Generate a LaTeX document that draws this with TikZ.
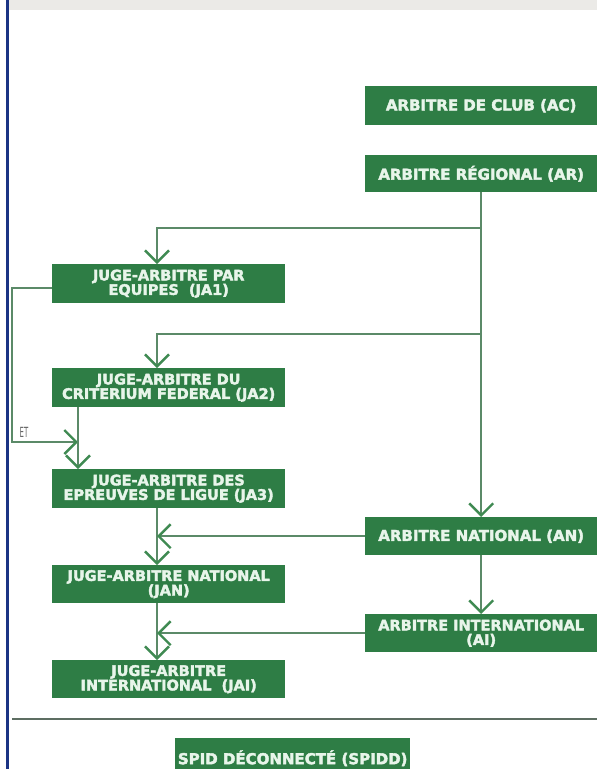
\documentclass[tikz,border=0pt]{standalone}
\usepackage{fontspec}
\newfontfamily\heavy[FakeBold=2.6]{DejaVu Sans Bold}
\newfontfamily\dvsc{DejaVu Sans Condensed}
\usetikzlibrary{arrows.meta}
\definecolor{boxgreen}{HTML}{2E7D45}
\definecolor{boxtext}{HTML}{E8F5EA}
\definecolor{linecol}{HTML}{5B8A68}
\definecolor{tipcol}{HTML}{3F8A52}
\definecolor{bluebar}{HTML}{1B3484}
\definecolor{topband}{HTML}{EBEAE7}
\definecolor{sepcol}{HTML}{5D6E62}
\tikzset{
  box/.style={fill=boxgreen, text=boxtext, align=center, inner sep=0pt,
    anchor=north west, font=\heavy\fontsize{15}{15.5}\selectfont},
  two/.style={font=\heavy\fontsize{14.5}{14.5}\selectfont},
  lbox/.style={box, minimum width=233pt},
  rbox/.style={box, minimum width=232pt},
  conn/.style={draw=linecol, line width=2pt},
  arr/.style={conn, -{Straight Barb[length=12pt, width=24pt, line width=2.4pt, color=tipcol]}},
}
\begin{document}
\begin{tikzpicture}[x=1pt, y=-1pt]
\useasboundingbox (0,0) rectangle (597,769);
% frame elements
\fill[white] (0,0) rectangle (597,769);
\fill[topband] (8,0) rectangle (597,10);
\fill[bluebar] (5.5,0) rectangle (8.5,769);

% right column
\node[rbox, minimum height=39pt] (AC) at (365,86) {ARBITRE DE CLUB (AC)};
\node[rbox, minimum height=37pt] (AR) at (365,155) {ARBITRE RÉGIONAL (AR)};
\node[rbox, minimum height=38pt] (AN) at (365,517) {ARBITRE NATIONAL (AN)};
\node[rbox, two, minimum height=38pt] (AI) at (365,614) {ARBITRE INTERNATIONAL\\(AI)};

% left column
\node[lbox, two, minimum height=39pt] (JA1) at (52,264) {JUGE-ARBITRE PAR\\EQUIPES~~(JA1)};
\node[lbox, two, minimum height=39pt] (JA2) at (52,368) {JUGE-ARBITRE DU\\CRITERIUM FEDERAL (JA2)};
\node[lbox, two, minimum height=39pt] (JA3) at (52,469) {JUGE-ARBITRE DES\\EPREUVES DE LIGUE (JA3)};
\node[lbox, two, minimum height=38pt] (JAN) at (52,565) {JUGE-ARBITRE NATIONAL\\(JAN)};
\node[lbox, two, minimum height=38pt] (JAI) at (52,660) {JUGE-ARBITRE\\INTERNATIONAL~~(JAI)};

% bottom
\node[box, minimum width=235pt, minimum height=40pt] (SPIDD) at (175,738) {SPID DÉCONNECTÉ (SPIDD)};

% routing coordinates
\coordinate (c1) at (157,228);
\coordinate (c2) at (157,334);
\coordinate (jx) at (157,0);
\coordinate (ja1o) at (52,288);
\coordinate (lp1) at (12,288);
\coordinate (lp2) at (12,442);
\coordinate (ja2x) at (78,0);
\coordinate (sepL) at (12,719);
\coordinate (sepR) at (597,719);

% connectors
\draw[arr] (AR.south) -- (AN.north);
\draw[arr] (AR.south |- c1) -- (c1) -- (c1 |- JA1.north);
\draw[arr] (AR.south |- c2) -- (c2) -- (c2 |- JA2.north);
\draw[conn] (ja1o) -- (lp1) -- (lp2) -- (lp2 -| ja2x);
\draw[arr] (lp2) -- (lp2 -| ja2x);
\draw[arr] (JA2.south -| ja2x) -- (JA3.north -| ja2x);
\draw[arr] (JA3.south -| jx) -- (JAN.north -| jx);
\draw[arr] (JAN.south -| jx) -- (JAI.north -| jx);
\draw[arr] (AN.west) -- (AN.west -| jx);
\draw[arr] (AI.west) -- (AI.west -| jx);
\draw[arr] (AN.south) -- (AI.north);
\node[font=\dvsc\fontsize{14}{14}\selectfont, text=black!60, xscale=0.55, inner sep=0pt] (ET) at (24,432) {ET};

% separator
\draw[draw=sepcol, line width=2.5pt] (sepL) -- (sepR);
\end{tikzpicture}
\end{document}
